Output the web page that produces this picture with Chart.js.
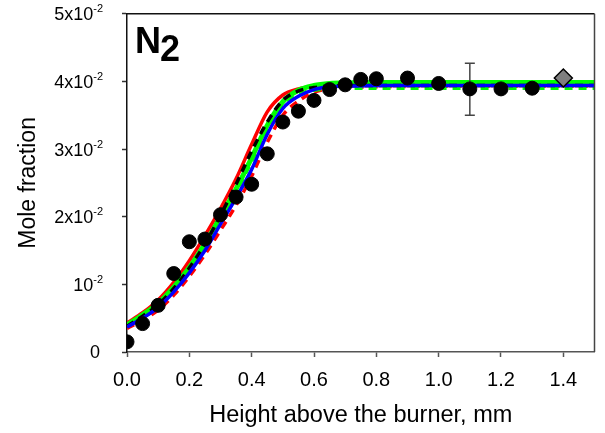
<!DOCTYPE html>
<html>
<head>
<meta charset="utf-8">
<script src="https://cdn.jsdelivr.net/npm/chart.js@4.4.1/dist/chart.umd.min.js"></script>
<style>
  html, body { margin: 0; padding: 0; background: #fff; }
  #wrap { width: 605px; height: 433px; }
</style>
</head>
<body>
<div id="wrap"><canvas id="chart" width="605" height="433"></canvas></div>
<script>
// measured N2 mole fraction vs height above the burner (mm)
const expX = [0, 0.05, 0.1, 0.15, 0.2, 0.25, 0.3, 0.35, 0.4, 0.45, 0.5, 0.55, 0.6, 0.65, 0.7, 0.75, 0.8, 0.9, 1.0, 1.1, 1.2, 1.3];
const expY = [0.0015, 0.0042, 0.0069, 0.0116, 0.0163, 0.0167, 0.0203, 0.0229, 0.0248, 0.0293, 0.0340, 0.0356, 0.0372, 0.0388, 0.0395, 0.0403, 0.0404, 0.0405, 0.0397, 0.0389, 0.0389, 0.0390];

// grey diamond
const refX = [1.4];
const refY = [0.0405];

// error bar on the 1.1 mm point
const errX = [1.1, 1.1];
const errY = [0.0350, 0.0427];

// model curves
const modelX     = [0, 0.05, 0.1, 0.15, 0.2, 0.25, 0.3, 0.35, 0.4, 0.45, 0.5, 0.55, 0.6, 0.65, 0.7, 0.8, 1.0, 1.5];
const greenSolid = [0.0040, 0.0055, 0.0072, 0.0096, 0.0125, 0.0160, 0.0200, 0.0241, 0.0287, 0.0335, 0.0370, 0.0387, 0.0394, 0.0397, 0.0398, 0.03985, 0.03985, 0.03985];
const redSolid   = [0.0043, 0.0058, 0.0077, 0.0103, 0.0135, 0.0172, 0.0212, 0.0256, 0.0307, 0.0355, 0.0380, 0.0389, 0.0393, 0.0394, 0.0394, 0.0394, 0.0394, 0.0394];
const blackDash  = [0.0038, 0.0053, 0.0070, 0.0094, 0.0124, 0.0160, 0.0202, 0.0248, 0.0297, 0.0340, 0.0372, 0.0386, 0.0391, 0.0393, 0.0394, 0.0394, 0.0394, 0.0394];
const blueSolid  = [0.0037, 0.0050, 0.0066, 0.0089, 0.0117, 0.0150, 0.0189, 0.0228, 0.0270, 0.0322, 0.0360, 0.0378, 0.0388, 0.0392, 0.0393, 0.0394, 0.0394, 0.0394];
const redDash    = [0.0035, 0.0047, 0.0062, 0.0084, 0.0112, 0.0144, 0.0180, 0.0217, 0.0260, 0.0310, 0.0350, 0.0371, 0.0384, 0.0389, 0.0391, 0.0392, 0.0393, 0.0393];
const greenDash  = [0.0039, 0.0053, 0.0070, 0.0093, 0.0122, 0.0157, 0.0197, 0.0237, 0.0282, 0.0330, 0.0365, 0.0381, 0.0387, 0.0389, 0.0390, 0.0390, 0.0390, 0.0390];

// y tick labels, drawn with a superscript exponent
const yTicks    = [0, 0.01, 0.02, 0.03, 0.04, 0.05];
const yTickBase = ["0", "10", "2x10", "3x10", "4x10", "5x10"];
const yTickExp  = ["", "-2", "-2", "-2", "-2", "-2"];

const FONT = "'Liberation Sans', Arial, Helvetica, sans-serif";

function pts(xs, ys) {
  return xs.map((x, i) => ({ x: x, y: ys[i] }));
}

function curve(label, ys, color, width, dash, order) {
  return {
    label: label,
    type: "line",
    data: pts(modelX, ys),
    borderColor: color,
    borderWidth: width,
    borderDash: dash,
    pointRadius: 0,
    fill: false,
    cubicInterpolationMode: "monotone",
    order: order,
  };
}

// frame, y tick labels and the species label
const decorations = {
  id: "decorations",
  afterDraw(chart) {
    const ctx = chart.ctx;
    const a = chart.chartArea;
    const y = chart.scales.y;
    ctx.save();
    ctx.lineWidth = 1.5;
    ctx.strokeStyle = "#111";
    ctx.beginPath();
    ctx.moveTo(a.left, a.top);
    ctx.lineTo(a.right, a.top);
    ctx.stroke();
    ctx.strokeStyle = "#444";
    ctx.beginPath();
    ctx.moveTo(a.right, a.top);
    ctx.lineTo(a.right, a.bottom);
    ctx.stroke();

    ctx.fillStyle = "#000";
    ctx.textBaseline = "middle";
    const rightEdge = 103;
    yTicks.forEach((v, i) => {
      const py = y.getPixelForValue(v) + 1.5;
      ctx.font = "11px " + FONT;
      const ew = yTickExp[i] ? ctx.measureText(yTickExp[i]).width : 0;
      if (yTickExp[i]) {
        ctx.textAlign = "right";
        ctx.fillText(yTickExp[i], rightEdge, py - 6);
      }
      ctx.font = "18px " + FONT;
      ctx.textAlign = "right";
      ctx.fillText(yTickBase[i], yTickExp[i] ? rightEdge - ew : rightEdge - 3, py);
    });

    ctx.font = "bold 36px " + FONT;
    ctx.textAlign = "left";
    ctx.textBaseline = "alphabetic";
    ctx.fillText("N", a.left + 8, 53);
    const nw = ctx.measureText("N").width;
    ctx.fillText("2", a.left + 8 + nw - 1, 61);
    ctx.restore();
  },
};

new Chart(document.getElementById("chart"), {
  type: "scatter",
  data: {
    datasets: [
      {
        label: "Experiment",
        data: pts(expX, expY),
        backgroundColor: "#000",
        borderColor: "#000",
        pointRadius: 7,
        pointHoverRadius: 7,
        order: 0,
      },
      {
        label: "Reference",
        data: pts(refX, refY),
        pointStyle: "rectRot",
        backgroundColor: "#7f7f7f",
        borderColor: "#000",
        borderWidth: 1.5,
        pointRadius: 9,
        order: 0,
      },
      {
        label: "Error",
        type: "line",
        data: pts(errX, errY),
        borderColor: "#444",
        borderWidth: 1.5,
        pointStyle: "line",
        pointRadius: 5,
        pointBorderColor: "#444",
        pointBorderWidth: 1.5,
        order: 1,
      },
      curve("Model 4", blueSolid, "#0000ff", 3.5, [], 2),
      curve("Model 1", blackDash, "#000", 3.5, [8, 6], 3),
      curve("Model 2", greenDash, "#00ff00", 3.5, [8, 6], 4),
      curve("Model 3", greenSolid, "#00ff00", 5, [], 5),
      curve("Model 5", redSolid, "#ff0000", 3.5, [], 6),
      curve("Model 6", redDash, "#ff0000", 3.5, [8, 6], 7),
    ],
  },
  options: {
    responsive: false,
    animation: false,
    devicePixelRatio: 1,
    layout: { padding: { top: 13, right: 8, left: 0, bottom: 0 } },
    plugins: { legend: { display: false }, tooltip: { enabled: false } },
    scales: {
      x: {
        type: "linear",
        min: 0,
        max: 1.5,
        afterFit: (s) => { s.height = 81; },
        ticks: {
          stepSize: 0.2,
          includeBounds: false,
          color: "#000",
          font: { family: FONT, size: 20 },
          padding: 11,
          maxRotation: 0,
          callback: (v) => v.toFixed(1),
        },
        grid: { drawOnChartArea: false, tickLength: 5, color: "#555", tickWidth: 1.5 },
        border: { color: "#555", width: 1.5 },
        title: {
          display: true,
          text: "Height above the burner, mm",
          color: "#000",
          font: { family: FONT, size: 23.5 },
          padding: { top: 0, bottom: 3 },
        },
      },
      y: {
        type: "linear",
        min: 0,
        max: 0.05,
        afterFit: (s) => { s.width = 127; },
        ticks: {
          stepSize: 0.01,
          color: "rgba(0,0,0,0)",
          font: { family: FONT, size: 18 },
          callback: (v) => String(Math.round(v * 100)),
        },
        grid: { drawOnChartArea: false, tickLength: 5, color: "#333", tickWidth: 1.5 },
        border: { color: "#111", width: 1.5 },
        title: {
          display: true,
          text: "Mole fraction",
          color: "#000",
          font: { family: FONT, size: 23 },
          padding: { top: 15, bottom: 0 },
        },
      },
    },
  },
  plugins: [decorations],
});
</script>
</body>
</html>
